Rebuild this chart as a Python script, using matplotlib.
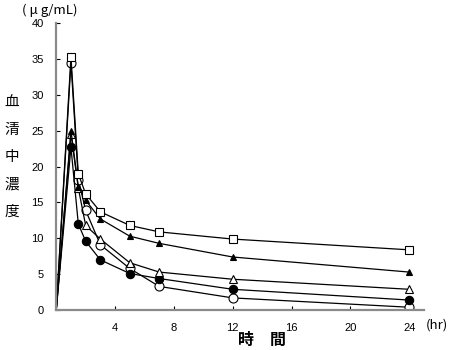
import matplotlib
matplotlib.use("Agg")
import matplotlib.pyplot as plt

# sampling times (hr)
hours = [0, 1, 1.5, 2, 3, 5, 7, 12, 24]

# serum concentration (ug/mL) for each group
conc_square = [0, 35.3, 19.0, 16.2, 13.7, 11.8, 10.9, 9.9, 8.4]
conc_tri_filled = [0, 25.0, 17.2, 15.3, 12.7, 10.3, 9.3, 7.4, 5.3]
conc_tri_open = [0, 24.6, 17.0, 11.8, 9.9, 6.6, 5.3, 4.3, 2.9]
conc_circ_filled = [0, 22.7, 12.0, 9.6, 7.0, 5.1, 4.4, 2.9, 1.4]
conc_circ_open = [0, 34.5, 18.2, 13.9, 9.1, 5.8, 3.3, 1.7, 0.4]

xticks = [4, 8, 12, 16, 20, 24]
yticks = [0, 5, 10, 15, 20, 25, 30, 35, 40]

cjk = ["Noto Sans CJK JP", "DejaVu Sans"]
num_font = "Liberation Sans"

fig = plt.figure(figsize=(4.5, 3.5), dpi=100)
ax = fig.add_axes([0.125, 0.114, 0.817, 0.82])

series = [
    (conc_circ_open, dict(marker="o", ms=6.5, mfc="white")),
    (conc_circ_filled, dict(marker="o", ms=6, mfc="black")),
    (conc_tri_open, dict(marker="^", ms=6, mfc="white")),
    (conc_tri_filled, dict(marker="^", ms=4.5, mfc="black")),
    (conc_square, dict(marker="s", ms=5.5, mfc="white")),
]
for vals, style in series:
    ax.plot(hours, vals, color="black", lw=0.9, mec="black", mew=0.8,
            markevery=slice(1, None), **style)

ax.set_xlim(0, 25)
ax.set_ylim(0, 40)
ax.set_xticks(xticks)
ax.set_yticks(yticks)
for lbl in ax.get_xticklabels() + ax.get_yticklabels():
    lbl.set_fontfamily(num_font)
    lbl.set_fontsize(8)
ax.tick_params(axis="both", direction="in", length=3, width=0.8, color="black")
ax.tick_params(axis="y", pad=9)
ax.tick_params(axis="x", pad=9)

for side in ["top", "right"]:
    ax.spines[side].set_visible(False)
for side in ["left", "bottom"]:
    ax.spines[side].set_color("#8a8a8a")
    ax.spines[side].set_linewidth(1.6)

# axis captions
fig.text(22 / 450, 1 - 10 / 350, "( μ g/mL)", fontsize=9.5, family=cjk,
         ha="left", va="center")
fig.text(448 / 450, 1 - 325 / 350, "(hr)", fontsize=9.5, family=cjk,
         ha="right", va="center")
fig.text(262 / 450, 1 - 340 / 350, "時　間", fontsize=11.5, family=cjk,
         fontweight="bold", ha="center", va="center")
for i, ch in enumerate("血清中濃度"):
    fig.text(12 / 450, 1 - (103 + 27.2 * i) / 350, ch, fontsize=10.5, family=cjk,
             ha="center", va="center")

fig.savefig("out.png", dpi=100)
